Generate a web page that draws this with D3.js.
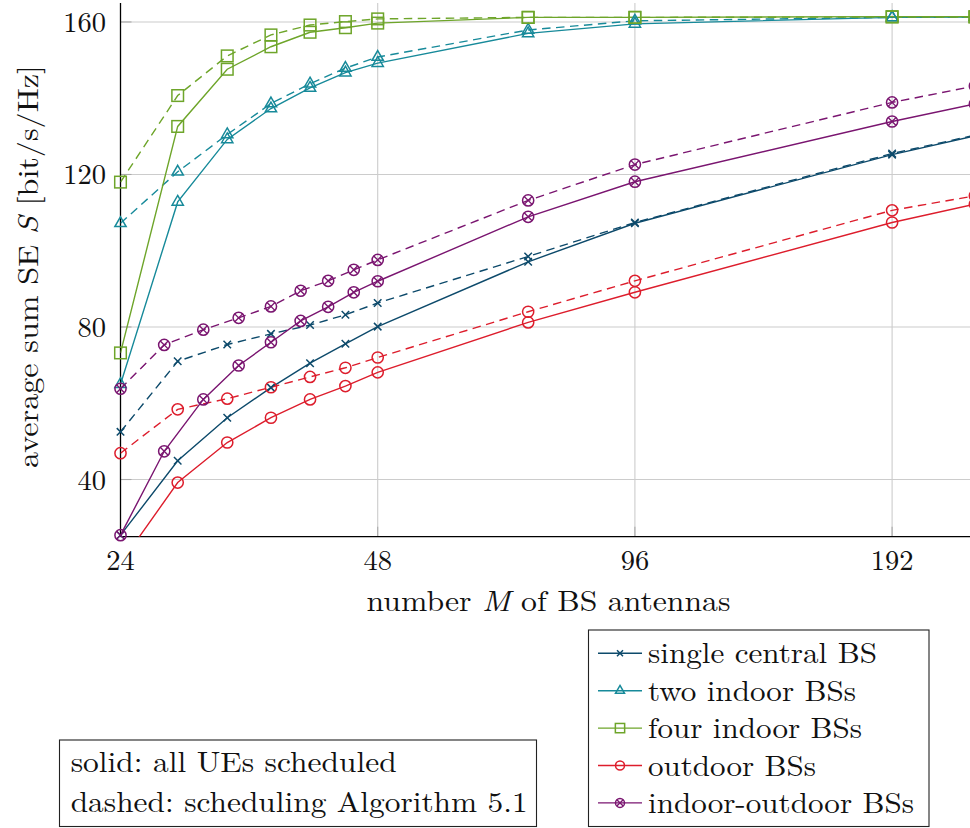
<!DOCTYPE html>
<html>
<head>
<meta charset="utf-8">
<script src="https://cdn.jsdelivr.net/npm/d3@7"></script>
<style>
  html, body { margin: 0; padding: 0; background: #fff; }
  svg { display: block; }
</style>
</head>
<body>
<div id="chart"></div>
<script>
// ---------- data ----------
const antennasA = [24, 28, 32, 36, 40, 44, 48, 72, 96, 192, 240];
const antennasB = [24, 27, 30, 33, 36, 39, 42, 45, 48, 72, 96, 192, 240];

const singleSolid  = [25.4, 44.9, 56.2, 64.1, 70.5, 75.6, 80.1, 97.1, 107.2, 125.2, 130.1];
const singleDashed = [52.5, 71.0, 75.4, 78.2, 80.5, 83.2, 86.3, 98.5, 107.4, 125.5, 130.3];
const twoSolid     = [65.0, 112.8, 129.2, 137.3, 142.7, 146.7, 149.2, 157.0, 159.5, 161.2, 161.3];
const twoDashed    = [107.2, 120.7, 130.5, 138.6, 143.8, 147.9, 150.8, 157.9, 160.3, 161.2, 161.3];
const fourSolid    = [73.2, 132.6, 147.6, 153.5, 157.3, 158.5, 159.7, 161.2, 161.2, 161.4, 161.4];
const fourDashed   = [118.0, 140.7, 151.1, 156.6, 159.2, 160.1, 160.8, 161.2, 161.2, 161.3, 161.3];
const outSolid     = [18.0, 39.2, 49.7, 56.2, 61.0, 64.5, 68.1, 81.2, 89.1, 107.4, 112.2];
const outDashed    = [46.9, 58.4, 61.2, 64.2, 66.9, 69.3, 72.0, 84.0, 92.1, 110.6, 114.4];
const ioSolid      = [25.4, 47.4, 61.0, 69.9, 76.0, 81.6, 85.3, 89.1, 92.0, 108.9, 118.1, 133.9, 138.5];
const ioDashed     = [63.8, 75.3, 79.3, 82.4, 85.4, 89.5, 92.1, 95.0, 97.6, 113.2, 122.6, 138.9, 143.2];

const xTicks = [24, 48, 96, 192];
const yTicks = [40, 80, 120, 160];
const legendLabels = ["single central BS", "two indoor BSs", "four indoor BSs", "outdoor BSs", "indoor-outdoor BSs"];
const noteLines = ["solid: all UEs scheduled", "dashed: scheduling Algorithm 5.1"];

// ---------- setup ----------
const W = 970, H = 828;
const FONT = '"Latin Modern Roman", "Liberation Serif", serif';
const FS = 28.5;
const colors = ["#0d4a6b", "#178a9a", "#6ea52a", "#dd1d2c", "#7a1570"];
const markers = ["cross", "triangle", "square", "circle", "otimes"];

const series = [
  {name: legendLabels[0], xs: antennasA, solid: singleSolid, dashed: singleDashed},
  {name: legendLabels[1], xs: antennasA, solid: twoSolid, dashed: twoDashed},
  {name: legendLabels[2], xs: antennasA, solid: fourSolid, dashed: fourDashed},
  {name: legendLabels[3], xs: antennasA, solid: outSolid, dashed: outDashed},
  {name: legendLabels[4], xs: antennasB, solid: ioSolid, dashed: ioDashed}
];

const pLeft = 120.5, pRight = 974.9, pTop = 2.9, pBottom = 536.7;
const x = d3.scaleLog().base(2).domain([24, 240]).range([pLeft, pRight]);
const y = d3.scaleLinear().domain([25, 165]).range([pBottom, pTop]);

const svg = d3.select("#chart").append("svg")
  .attr("width", W).attr("height", H).attr("viewBox", `0 0 ${W} ${H}`);

svg.append("defs").append("clipPath").attr("id", "plotclip")
  .append("rect").attr("x", pLeft).attr("y", pTop).attr("width", pRight - pLeft).attr("height", pBottom - pTop);

function txt(sel) {
  return sel.style("font-family", FONT).attr("font-size", FS).attr("fill", "#111");
}

// grid
const grid = svg.append("g");
grid.selectAll(".gx").data(xTicks.slice(1)).join("line")
  .attr("x1", d => x(d)).attr("x2", d => x(d)).attr("y1", pTop).attr("y2", pBottom)
  .attr("stroke", "#cccccc").attr("stroke-width", 1.1);
grid.selectAll(".gy").data(yTicks).join("line")
  .attr("x1", pLeft).attr("x2", W).attr("y1", d => y(d)).attr("y2", d => y(d))
  .attr("stroke", "#cccccc").attr("stroke-width", 1.1);
// inner tick marks
grid.selectAll(".tx").data(xTicks.slice(1)).join("line")
  .attr("x1", d => x(d)).attr("x2", d => x(d)).attr("y1", pBottom).attr("y2", pBottom - 10)
  .attr("stroke", "#aaaaaa").attr("stroke-width", 1.1);
grid.selectAll(".ty").data(yTicks).join("line")
  .attr("x1", pLeft).attr("x2", pLeft + 11).attr("y1", d => y(d)).attr("y2", d => y(d))
  .attr("stroke", "#aaaaaa").attr("stroke-width", 1.1);

// axes lines
svg.append("line").attr("x1", pLeft).attr("x2", pLeft).attr("y1", pTop).attr("y2", pBottom)
  .attr("stroke", "#000").attr("stroke-width", 1.3);
svg.append("line").attr("x1", pLeft).attr("x2", W).attr("y1", pBottom).attr("y2", pBottom)
  .attr("stroke", "#000").attr("stroke-width", 1.3);

// tick labels
txt(svg.selectAll(".xtl").data(xTicks).join("text"))
  .attr("x", d => x(d)).attr("y", 570).attr("text-anchor", "middle").text(d => d);
txt(svg.selectAll(".ytl").data(yTicks).join("text"))
  .attr("x", 106).attr("y", d => y(d) + 10).attr("text-anchor", "end").text(d => d);

// axis titles
const xt = txt(svg.append("text")).attr("x", 548.5).attr("y", 611).attr("text-anchor", "middle")
  .attr("textLength", 364).attr("lengthAdjust", "spacingAndGlyphs");
xt.append("tspan").text("number ");
xt.append("tspan").attr("font-style", "italic").text("M");
xt.append("tspan").text(" of BS antennas");

const yt = txt(svg.append("text")).attr("transform", "translate(38,266.5) rotate(-90)")
  .attr("text-anchor", "middle")
  .attr("textLength", 403).attr("lengthAdjust", "spacingAndGlyphs");
yt.append("tspan").text("average sum SE ");
yt.append("tspan").attr("font-style", "italic").text("S");
yt.append("tspan").text(" [bit/s/Hz]");

// marker drawing
function drawMarker(g, type, cx, cy, color, s) {
  const sw = 1.5;
  if (type === "cross") {
    const h = s * 0.72;
    g.append("path").attr("d", `M${cx-h},${cy-h}L${cx+h},${cy+h}M${cx-h},${cy+h}L${cx+h},${cy-h}`)
      .attr("stroke", color).attr("stroke-width", sw).attr("fill", "none");
  } else if (type === "triangle") {
    const r = s * 1.05;
    const pts = [[cx, cy - r], [cx + r * 0.866, cy + r * 0.5], [cx - r * 0.866, cy + r * 0.5]];
    g.append("path").attr("d", "M" + pts.map(p => p.join(",")).join("L") + "Z")
      .attr("stroke", color).attr("stroke-width", sw).attr("fill", "none");
  } else if (type === "square") {
    g.append("rect").attr("x", cx - s).attr("y", cy - s).attr("width", 2 * s).attr("height", 2 * s)
      .attr("stroke", color).attr("stroke-width", sw).attr("fill", "none");
  } else if (type === "circle") {
    g.append("circle").attr("cx", cx).attr("cy", cy).attr("r", s)
      .attr("stroke", color).attr("stroke-width", sw).attr("fill", "none");
  } else if (type === "otimes") {
    g.append("circle").attr("cx", cx).attr("cy", cy).attr("r", s)
      .attr("stroke", color).attr("stroke-width", sw).attr("fill", "none");
    const h = s * 0.707;
    g.append("path").attr("d", `M${cx-h},${cy-h}L${cx+h},${cy+h}M${cx-h},${cy+h}L${cx+h},${cy-h}`)
      .attr("stroke", color).attr("stroke-width", sw * 0.9).attr("fill", "none");
  }
}

const markerSize = {cross: 5.2, triangle: 6.2, square: 5.8, circle: 5.6, otimes: 5.6};

const line = d3.line().x(d => x(d[0])).y(d => y(d[1]));
const plot = svg.append("g");
const linesG = plot.append("g").attr("clip-path", "url(#plotclip)");
const marksG = plot.append("g");

series.forEach((s, i) => {
  ["dashed", "solid"].forEach(kind => {
    const pts = s.xs.map((m, j) => [m, s[kind][j]]);
    linesG.append("path").datum(pts).attr("d", line)
      .attr("fill", "none").attr("stroke", colors[i]).attr("stroke-width", 1.4)
      .attr("stroke-dasharray", kind === "dashed" ? "8.5,5.5" : null);
    pts.filter(p => p[1] >= 25 && p[1] <= 165).forEach(p => {
      drawMarker(marksG, markers[i], x(p[0]), y(p[1]), colors[i], markerSize[markers[i]]);
    });
  });
});

// legend
const lg = svg.append("g");
lg.append("rect").attr("x", 588.5).attr("y", 630).attr("width", 340.5).attr("height", 196.5)
  .attr("fill", "#fff").attr("stroke", "#222").attr("stroke-width", 1.1);
const legendWidths = [229, 208, 214, 168, 266];
legendLabels.forEach((lab, i) => {
  const base = 663.3 + i * 37.4;
  const ly = base - 10;
  lg.append("line").attr("x1", 598).attr("x2", 642).attr("y1", ly).attr("y2", ly)
    .attr("stroke", colors[i]).attr("stroke-width", 1.4);
  drawMarker(lg, markers[i], 620, ly, colors[i], markerSize[markers[i]] * 0.8);
  txt(lg.append("text")).attr("x", 648).attr("y", base)
    .attr("textLength", legendWidths[i]).attr("lengthAdjust", "spacingAndGlyphs").text(lab);
});

// note box
const nb = svg.append("g");
nb.append("rect").attr("x", 59.5).attr("y", 740).attr("width", 477).attr("height", 86.5)
  .attr("fill", "#fff").attr("stroke", "#222").attr("stroke-width", 1.1);
const noteWidths = [326, 457];
noteLines.forEach((t, i) => {
  txt(nb.append("text")).attr("x", 70.7).attr("y", 771.7 + i * 40)
    .attr("textLength", noteWidths[i]).attr("lengthAdjust", "spacingAndGlyphs").text(t);
});
</script>
</body>
</html>
